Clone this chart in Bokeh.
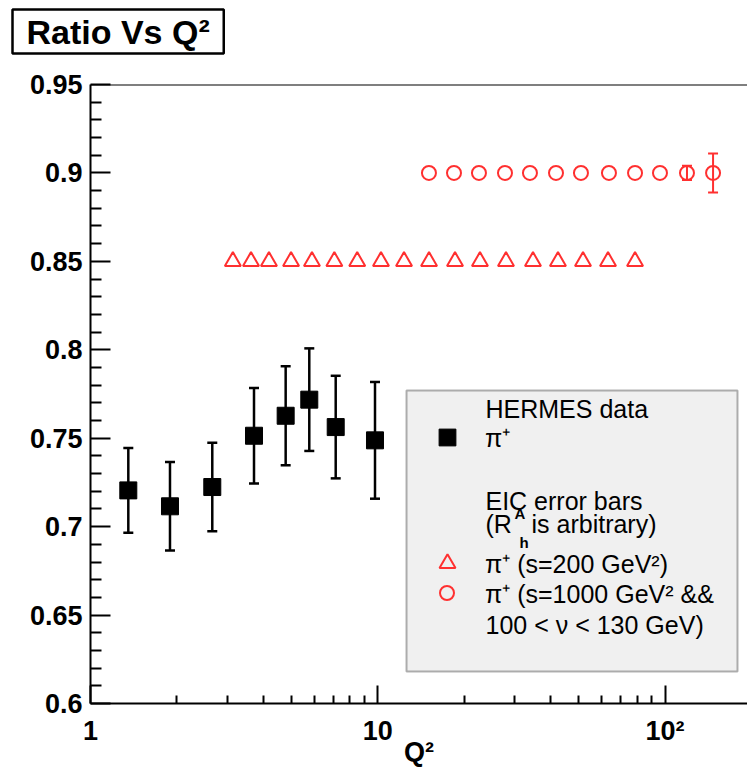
from bokeh.plotting import figure
from bokeh.models import (Label, BoxAnnotation, Span, Legend, LegendItem, Whisker,
                          TeeHead, ColumnDataSource, FixedTicker, Title)
from bokeh.core.properties import value
from bokeh.embed import file_html
from bokeh.resources import INLINE

# ---------------- data ----------------
hermes_q2 = [1.354, 1.891, 2.654, 3.708, 4.779, 5.775, 7.137, 9.779]
hermes_ratio = [0.7205, 0.7115, 0.7224, 0.7514, 0.7627, 0.7718, 0.7563, 0.7488]
hermes_err = [0.024, 0.025, 0.025, 0.027, 0.028, 0.029, 0.029, 0.033]

eic200_q2 = [3.13, 3.62, 4.18, 4.99, 5.90, 7.06, 8.48, 10.26, 12.34, 15.08,
             18.57, 22.68, 27.94, 34.69, 42.38, 51.80, 63.30, 78.60]
eic200_ratio = [0.85] * 18

eic1000_q2 = [15.07, 18.42, 22.50, 27.72, 33.86, 41.72, 50.96, 63.78, 78.60,
              96.0, 119.2, 146.9]
eic1000_ratio = [0.9] * 12
eic1000_err = [0, 0, 0, 0, 0, 0, 0, 0, 0, 0, 0.004, 0.011]

y_ticks = [0.6, 0.65, 0.7, 0.75, 0.8, 0.85, 0.9, 0.95]
y_tick_labels = ["0.6", "0.65", "0.7", "0.75", "0.8", "0.85", "0.9", "0.95"]
x_ticks = [1, 10, 100]
x_tick_labels = ["1", "10", "10\u00b2"]

FONT = "Liberation Sans"
RED = "#ff3030"

p = figure(width=747, height=769, x_axis_type="log", x_range=(1, 193.6),
           y_range=(0.6, 0.95), output_backend="svg", toolbar_location=None,
           min_border_left=90, min_border_right=0, min_border_top=84,
           min_border_bottom=62, title="Ratio Vs Q\u00b2")
p.outline_line_color = None
p.xgrid.visible = False
p.ygrid.visible = False
p.background_fill_color = "white"
p.border_fill_color = "white"

# title box
t = p.title
t.align = "left"
t.text_font = FONT
t.text_font_size = "34px"
t.text_font_style = "bold"
t.text_color = "black"
t.border_line_color = "black"
t.border_line_width = 2.5
t.background_fill_color = "white"
t.padding = (14, 3)
t.offset = -78
t.standoff = 10
# spacer between the title box and the frame
p.add_layout(Title(text=" ", text_font_size="2px", standoff=22, padding=0), "above")

# axes
y_minor = [round(0.6 + 0.01 * i, 2) for i in range(36) if i % 5]
p.yaxis.ticker = FixedTicker(ticks=y_ticks, minor_ticks=y_minor)
p.yaxis.major_label_overrides = dict(zip(y_ticks, y_tick_labels))
x_minor = [m * d for d in (1, 10) for m in range(2, 10)]
p.xaxis.ticker = FixedTicker(ticks=x_ticks, minor_ticks=x_minor)
p.xaxis.major_label_overrides = dict(zip(x_ticks, x_tick_labels))

for ax in (p.xaxis[0], p.yaxis[0]):
    ax.axis_line_width = 2
    ax.axis_line_color = "black"
    ax.major_tick_line_width = 2
    ax.minor_tick_line_width = 2
    ax.major_tick_out = 0
    ax.minor_tick_out = 0
    ax.major_label_text_font = FONT
    ax.major_label_text_font_style = "bold"
    ax.major_label_text_font_size = "27px"
    ax.major_label_text_color = "black"
p.yaxis.major_tick_in = 20
p.yaxis.minor_tick_in = 11
p.yaxis.major_label_standoff = 8
p.xaxis.major_tick_in = 18
p.xaxis.minor_tick_in = 8
p.xaxis.major_label_standoff = 12
p.xaxis.axis_label = "Q\u00b2"
p.xaxis.axis_label_text_font = FONT
p.xaxis.axis_label_text_font_style = "bold"
p.xaxis.axis_label_text_font_size = "27px"
p.xaxis.axis_label_text_color = "black"
p.xaxis.axis_label_standoff = -12

p.add_layout(Span(location=0.95, dimension="width", line_color="black", line_width=2))

# HERMES data
src_h = ColumnDataSource(dict(
    x=hermes_q2, y=hermes_ratio,
    lo=[v - e for v, e in zip(hermes_ratio, hermes_err)],
    hi=[v + e for v, e in zip(hermes_ratio, hermes_err)]))
p.add_layout(Whisker(source=src_h, base="x", lower="lo", upper="hi",
                     line_color="black", line_width=2.5,
                     lower_head=TeeHead(size=10, line_width=2.5, line_color="black"),
                     upper_head=TeeHead(size=10, line_width=2.5, line_color="black")))
r_sq = p.scatter("x", "y", source=src_h, marker="square", size=17,
                 fill_color="black", line_color="black")

# EIC s=200
src_t = ColumnDataSource(dict(x=eic200_q2, y=eic200_ratio))
r_tri = p.scatter("x", "y", source=src_t, marker="triangle", size=16,
                  fill_color=None, line_color=RED, line_width=2)

# EIC s=1000
sel = [i for i, e in enumerate(eic1000_err) if e > 0]
src_ce = ColumnDataSource(dict(
    x=[eic1000_q2[i] for i in sel],
    lo=[eic1000_ratio[i] - eic1000_err[i] for i in sel],
    hi=[eic1000_ratio[i] + eic1000_err[i] for i in sel]))
p.add_layout(Whisker(source=src_ce, base="x", lower="lo", upper="hi",
                     line_color=RED, line_width=2,
                     lower_head=TeeHead(size=10, line_width=2, line_color=RED),
                     upper_head=TeeHead(size=10, line_width=2, line_color=RED)))
src_c = ColumnDataSource(dict(x=eic1000_q2, y=eic1000_ratio))
r_circ = p.scatter("x", "y", source=src_c, marker="circle", size=14,
                   fill_color=None, line_color=RED, line_width=2)

# ---------------- legend box ----------------
# screen units are measured from the frame's bottom-left corner (frame at x=90, y=707)
p.add_layout(BoxAnnotation(left=316, right=647, top=313, bottom=32,
                           left_units="screen", right_units="screen",
                           top_units="screen", bottom_units="screen",
                           fill_color="#f0f0f0", fill_alpha=1,
                           line_color="black", line_width=2, level="annotation"))


def leg(renderer, text, loc, gsize, standoff):
    lg = Legend(items=[LegendItem(label=value(text), renderers=[renderer])],
                location=loc, orientation="vertical", padding=0, margin=0,
                spacing=0, glyph_width=gsize, glyph_height=gsize,
                label_height=gsize, label_standoff=standoff,
                label_text_font=FONT, label_text_font_size="25px",
                label_text_color="black",
                border_line_color=None, background_fill_alpha=0)
    p.add_layout(lg)


leg(r_sq, "\u03c0\u207a", (336, 245), 42, 17)
leg(r_tri, "\u03c0\u207a (s=200 GeV\u00b2)", (337, 120), 40, 18)
leg(r_circ, "\u03c0\u207a (s=1000 GeV\u00b2 &&", (339, 93), 35, 21)


def txt(x, y, t, size="25px", style="normal", align="left", baseline="middle"):
    p.add_layout(Label(x=x, y=y, x_units="screen", y_units="screen", text=t,
                       text_font=FONT, text_font_size=size, text_font_style=style,
                       text_align=align, text_baseline=baseline, text_color="black"))


txt(395, 295, "HERMES data")
txt(395, 203, "EIC error bars")
txt(395, 180, "(R")
txt(424, 190, "A", size="15px", style="bold")
txt(429, 161, "h", size="15px", style="bold")
txt(441, 180, "is arbitrary)")
txt(395, 79, "100 < \u03bd < 130 GeV)")

open("out.html", "w").write(file_html(p, INLINE))
